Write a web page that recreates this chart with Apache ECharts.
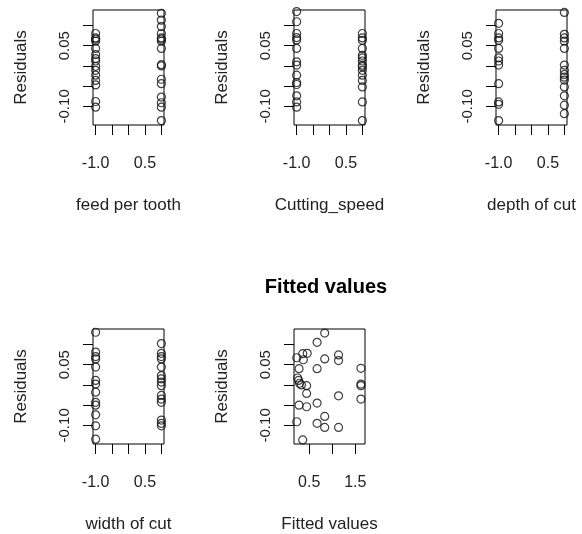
<!DOCTYPE html>
<html>
<head>
<meta charset="utf-8">
<script src="https://cdn.jsdelivr.net/npm/echarts@6/dist/echarts.min.js"></script>
<style>
  html, body { margin: 0; padding: 0; background: #fff; }
  #chart { width: 582px; height: 534px; }
</style>
</head>
<body>
<div id="chart"></div>
<script>
// Residuals against each coded factor (-1 / +1) and against the fitted values
const factorLevels = [-1, 1];
const factorTicks = [-1, -0.5, 0, 0.5, 1];
const factorTickLabels = [-1, 0.5];
const residTicks = [-0.1, -0.05, 0, 0.05, 0.1];
const residTickLabels = [-0.1, 0.05];
const fittedTicks = [0.5, 1.0, 1.5];
const fittedTickLabels = [0.5, 1.5];

const feedLow  = [0.080, 0.069, 0.066, 0.061, 0.043, 0.028, 0.018, 0.012, -0.001, -0.011, -0.023, -0.036, -0.047, -0.088, -0.102];
const feedHigh = [0.130, 0.113, 0.097, 0.080, 0.069, 0.066, 0.061, 0.043, 0.003, 0.000, -0.033, -0.044, -0.077, -0.091, -0.102, -0.135];

const speedLow  = [0.134, 0.109, 0.080, 0.070, 0.064, 0.043, 0.010, 0.002, -0.023, -0.041, -0.046, -0.074, -0.089, -0.102];
const speedHigh = [0.080, 0.069, 0.063, 0.043, 0.026, 0.020, 0.012, 0.002, -0.002, -0.011, -0.023, -0.036, -0.052, -0.089, -0.135];

const depthLow  = [0.105, 0.080, 0.069, 0.063, 0.043, 0.020, 0.012, 0.002, -0.044, -0.089, -0.095, -0.135];
const depthHigh = [0.132, 0.078, 0.069, 0.061, 0.043, 0.002, -0.011, -0.021, -0.028, -0.035, -0.052, -0.074, -0.097, -0.118];

const widthLow  = [0.130, 0.081, 0.070, 0.064, 0.044, 0.011, 0.002, -0.018, -0.043, -0.050, -0.074, -0.101, -0.134];
const widthHigh = [0.102, 0.078, 0.070, 0.064, 0.044, 0.023, 0.015, 0.007, -0.002, -0.026, -0.035, -0.043, -0.087, -0.095, -0.101];

const fittedX = [0.836, 0.671, 0.359, 0.457, 0.372, 0.230, 0.836, 1.136, 1.136, 0.279, 0.671, 1.622,
                 0.250, 0.270, 0.290, 0.330, 0.444, 0.444, 1.622, 1.622, 1.136, 1.622, 0.279, 0.444,
                 0.671, 0.230, 0.836, 0.671, 0.836, 1.136, 0.359];
const fittedRes = [0.128, 0.105, 0.077, 0.078, 0.062, 0.067, 0.064, 0.074, 0.060, 0.040, 0.040, 0.041,
                   0.017, 0.011, 0.004, 0.000, -0.002, -0.021, 0.002, -0.002, -0.027, -0.035, -0.050, -0.054,
                   -0.045, -0.091, -0.078, -0.095, -0.105, -0.105, -0.136];

const panels = [
  { name: 'feed per tooth', low: feedLow,  high: feedHigh,  left: 93,  top: 10 },
  { name: 'Cutting_speed',  low: speedLow, high: speedHigh, left: 294, top: 10 },
  { name: 'depth of cut',   low: depthLow, high: depthHigh, left: 496, top: 10 },
  { name: 'width of cut',   low: widthLow, high: widthHigh, left: 93,  top: 329 }
];

const FONT = "'Liberation Sans', Arial, sans-serif";
const BOX_W = 71, BOX_H = 115;

const grids = [], xAxes = [], yAxes = [], series = [];

function addPanel(idx, left, top, xCfg, xName, points) {
  grids.push({
    left: left, top: top, width: BOX_W, height: BOX_H,
    show: true, borderColor: '#000', borderWidth: 1, backgroundColor: 'transparent',
    outerBoundsMode: 'none', containLabel: false
  });
  xAxes.push({
    gridIndex: idx, type: 'value', position: 'bottom', min: xCfg.min, max: xCfg.max,
    name: xName, nameLocation: 'middle', nameGap: 72,
    nameTextStyle: { fontFamily: FONT, fontSize: 17, color: '#222' },
    axisLine: { show: false, onZero: false },
    axisTick: { show: true, inside: false, length: 10, customValues: xCfg.ticks,
                lineStyle: { color: '#000', width: 1 } },
    axisLabel: { show: true, margin: 31, customValues: xCfg.labels,
                 formatter: v => Number(v).toFixed(1),
                 fontFamily: FONT, fontSize: 16, color: '#222' },
    splitLine: { show: false }
  });
  yAxes.push({
    gridIndex: idx, type: 'value', position: 'left', min: -0.146, max: 0.138,
    name: 'Residuals', nameLocation: 'middle', nameGap: 63, nameRotate: 90,
    nameTextStyle: { fontFamily: FONT, fontSize: 17, color: '#222' },
    axisLine: { show: false, onZero: false },
    axisTick: { show: true, inside: false, length: 10, customValues: residTicks,
                lineStyle: { color: '#000', width: 1 } },
    axisLabel: { show: true, rotate: 90, margin: 21, customValues: residTickLabels,
                 formatter: v => Number(v).toFixed(2),
                 fontFamily: FONT, fontSize: 15, color: '#222' },
    splitLine: { show: false }
  });
  series.push({
    type: 'scatter', xAxisIndex: idx, yAxisIndex: idx,
    symbol: 'circle', symbolSize: 8,
    itemStyle: { color: 'rgba(255,255,255,0)', borderColor: '#111', borderWidth: 1.2 },
    emphasis: { disabled: true },
    silent: true, animation: false,
    data: points
  });
}

panels.forEach((p, i) => {
  const pts = p.low.map(r => [factorLevels[0], r]).concat(p.high.map(r => [factorLevels[1], r]));
  addPanel(i, p.left, p.top,
    { min: -1.08, max: 1.08, ticks: factorTicks, labels: factorTickLabels },
    p.name, pts);
});

addPanel(4, 294, 329,
  { min: 0.17, max: 1.71, ticks: fittedTicks, labels: fittedTickLabels },
  'Fitted values', fittedX.map((f, i) => [f, fittedRes[i]]));

const chart = echarts.init(document.getElementById('chart'), null, { renderer: 'canvas' });
chart.setOption({
  backgroundColor: '#fff',
  animation: false,
  title: {
    text: 'Fitted values', left: 321, top: 272, textAlign: 'center',
    textStyle: { fontFamily: FONT, fontSize: 20, fontWeight: 'bold', color: '#000' }
  },
  grid: grids,
  xAxis: xAxes,
  yAxis: yAxes,
  series: series
});
</script>
</body>
</html>
